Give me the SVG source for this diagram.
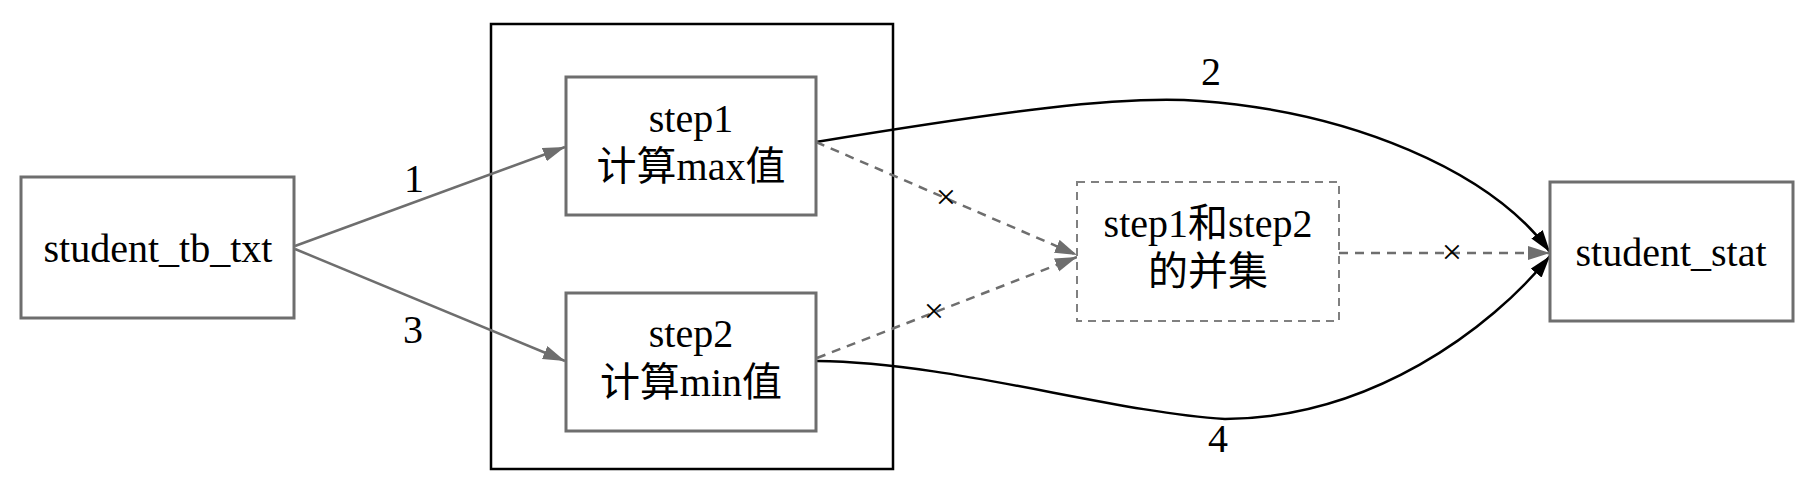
<svg xmlns="http://www.w3.org/2000/svg" width="1811" height="495" viewBox="0 0 1811 495">
<defs>
<style>
text{font-family:"Liberation Serif","Noto Sans CJK SC",serif;font-size:40px;fill:#000;text-anchor:middle}
.lbl{font-size:40px}
.x{font-size:36px;dominant-baseline:central}
.box{fill:#fff;stroke:#6e6e6e;stroke-width:3}
.cluster{fill:none;stroke:#000;stroke-width:2.5}
.dbox{fill:#fff;stroke:#808080;stroke-width:2;stroke-dasharray:8,6}
.g{fill:none;stroke:#6e6e6e;stroke-width:2.5}
.gd{fill:none;stroke:#6e6e6e;stroke-width:2.5;stroke-dasharray:9,7}
.k{fill:none;stroke:#000;stroke-width:2.5}
</style>
<marker id="ag" markerUnits="userSpaceOnUse" markerWidth="24" markerHeight="16" refX="22" refY="7" orient="auto"><path d="M0,0 L22,7 L0,14 z" fill="#6e6e6e"/></marker>
<marker id="ak" markerUnits="userSpaceOnUse" markerWidth="24" markerHeight="16" refX="22" refY="7" orient="auto"><path d="M0,0 L22,7 L0,14 z" fill="#000"/></marker>
</defs>
<rect width="1811" height="495" fill="#fff"/>
<g id="cluster"><rect class="cluster" x="491" y="24" width="402" height="445"/></g>
<g id="connectors">
<path class="g" d="M295,246 L565,147" marker-end="url(#ag)"/>
<path class="g" d="M295,249 L565,361" marker-end="url(#ag)"/>
<path class="k" d="M816,142 C1000,112 1120,95 1200,101 C1350,112 1490,170 1550,252" marker-end="url(#ak)"/>
<path class="k" d="M817,361 C950,362 1110,412 1225,419 C1370,418 1490,330 1550,256" marker-end="url(#ak)"/>
<path class="gd" d="M816,142 L1077,255" marker-end="url(#ag)"/>
<path class="gd" d="M817,358 L1077,257" marker-end="url(#ag)"/>
<path class="gd" d="M1339,253 L1550,253" marker-end="url(#ag)"/>
<text class="lbl" x="414" y="192">1</text>
<text class="lbl" x="413" y="343">3</text>
<text class="lbl" x="1211" y="85">2</text>
<text class="lbl" x="1218" y="452">4</text>
<text class="x" x="946" y="197">×</text>
<text class="x" x="934" y="311">×</text>
<text class="x" x="1452" y="252">×</text>
</g>
<g id="student_tb_txt"><rect class="box" x="21" y="177" width="273" height="141"/><text x="158" y="262">student_tb_txt</text></g>
<g id="step1"><rect class="box" x="566" y="77" width="250" height="138"/><text x="691" y="132">step1</text><text x="691" y="180">计算max值</text></g>
<g id="step2"><rect class="box" x="566" y="293" width="250" height="138"/><text x="691" y="347">step2</text><text x="691" y="396">计算min值</text></g>
<g id="union"><rect class="dbox" x="1077" y="182" width="262" height="139"/><text x="1208" y="237">step1和step2</text><text x="1208" y="285">的并集</text></g>
<g id="student_stat"><rect class="box" x="1550" y="182" width="243" height="139"/><text x="1671" y="266">student_stat</text></g>
</svg>
